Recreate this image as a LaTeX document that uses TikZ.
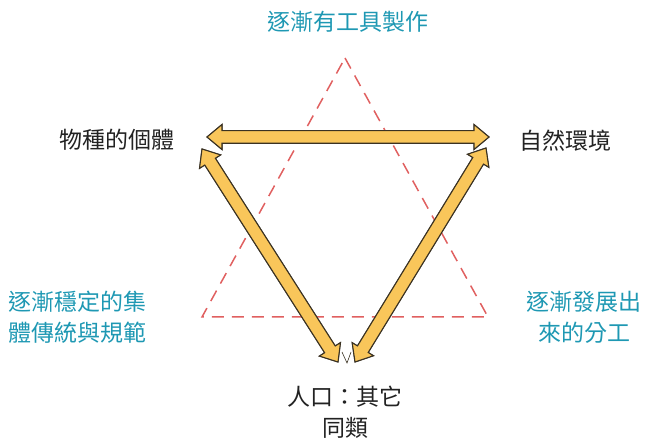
\documentclass[tikz,border=0pt]{standalone}
\usepackage{fontspec}
\newfontfamily\cjk{Noto Sans CJK TC}
\usetikzlibrary{calc}
\definecolor{arrowfill}{HTML}{F9C65A}
\definecolor{arrowline}{HTML}{3A3222}
\definecolor{shadowc}{HTML}{5A5550}
\definecolor{dashred}{HTML}{E06060}
\definecolor{tealtext}{HTML}{1E98B3}
\definecolor{darktext}{HTML}{222222}
\tikzset{
  lbl/.style={font=\cjk\fontsize{23}{31}\selectfont, text=darktext, inner sep=0pt},
  bluelbl/.style={lbl, text=tealtext},
  fatarrow/.style={fill=arrowfill, draw=arrowline, line width=1.1pt, line join=miter},
  fatshadow/.style={fill=shadowc, draw=shadowc, line width=1pt},
  dashtri/.style={draw=dashred, line width=1.5pt, dash pattern=on 12pt off 8pt},
}
\newcommand\fatpath[2]{%
  (#1) -- ($($(#1)!15pt!(#2)$)!12.5pt!90:(#2)$)
  -- ($($(#1)!15pt!(#2)$)!6.3pt!90:(#2)$)
  -- ($($(#2)!15pt!(#1)$)!6.3pt!-90:(#1)$)
  -- ($($(#2)!15pt!(#1)$)!12.5pt!-90:(#1)$)
  -- (#2)
  -- ($($(#2)!15pt!(#1)$)!12.5pt!90:(#1)$)
  -- ($($(#2)!15pt!(#1)$)!6.3pt!90:(#1)$)
  -- ($($(#1)!15pt!(#2)$)!6.3pt!-90:(#2)$)
  -- ($($(#1)!15pt!(#2)$)!12.5pt!-90:(#2)$)
  -- cycle}
\begin{document}
\begin{tikzpicture}[x=1pt,y=-1pt]
\useasboundingbox (0,0) rectangle (646,443);
% dashed triangle
\coordinate (tA) at (345,58);
\coordinate (tL) at (202,317);
\coordinate (tR) at (488,317);
\draw[dashtri] (tA) -- (tR) -- (tL) -- cycle;
% arrow end points
\coordinate (hL) at (207,137);
\coordinate (hR) at (489,137);
\coordinate (lT) at (202,149);
\coordinate (lB) at (338,362);
\coordinate (rT) at (486,148);
\coordinate (rB) at (355,362);
\coordinate (vL) at (342,352);
\coordinate (vM) at (347,363);
\coordinate (vR) at (351,352);
% shadows
\begin{scope}[shift={(2.2,2.2)}]
  \fill[fatshadow] \fatpath{hL}{hR};
  \fill[fatshadow] \fatpath{lT}{lB};
  \fill[fatshadow] \fatpath{rT}{rB};
\end{scope}
% arrows
\filldraw[fatarrow] \fatpath{hL}{hR};
\filldraw[fatarrow] \fatpath{lT}{lB};
\filldraw[fatarrow] \fatpath{rT}{rB};
\draw[arrowline, line width=0.6pt] (vL) -- (vM) -- (vR);
% labels
\node[bluelbl] (tool) at (348,22) {逐漸有工具製作};
\node[lbl] (indiv) at (117,140) {物種的個體};
\node[lbl] (env) at (565,141) {自然環境};
\node[bluelbl, align=left, anchor=west] (trad) at (8,317) {逐漸穩定的集\\體傳統與規範};
\node[bluelbl, align=center] (labor) at (584,317) {逐漸發展出\\來的分工};
\node[lbl, align=center] (pop) at (345,412) {人口：其它\\同類};
\end{tikzpicture}
\end{document}
